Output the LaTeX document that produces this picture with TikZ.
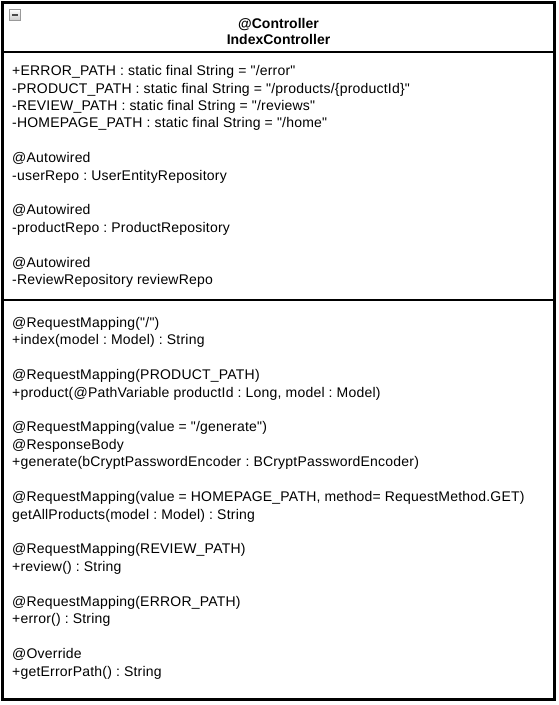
\documentclass[tikz,border=0pt]{standalone}
\usepackage{fontspec}
\setmainfont{Liberation Sans}[Ligatures=TeXOff]
\newfontfamily\memberfont{Liberation Sans}[Ligatures=TeXOff,LetterSpace=1.5]
\frenchspacing
\begin{document}
\begin{tikzpicture}[x=1pt,y=-1pt,
  member/.style={anchor=base west,inner sep=0pt,font=\memberfont\fontsize{14}{17}\selectfont},
  title/.style={anchor=base,inner sep=0pt,font=\fontsize{14}{16}\selectfont\bfseries}]

\useasboundingbox (0,0) rectangle (558,705);

\begin{scope}[line width=3pt] % class frame
  \draw[fill=white] (2,2) rectangle (554.5,699.5);
\end{scope}
\draw[line width=2.5pt] (2,52) -- (554.5,52);
\draw[line width=1.5pt] (2,300) -- (554.5,300);

\begin{scope} % collapse button
  \draw[gray!80,top color=white,bottom color=gray!40] (9.5,9.5) rectangle (20.5,20.5);
  \draw[line width=1.5pt,black!70] (12,15) -- (18,15);
\end{scope}

\node[title] (stereo) at (278.5,28.3) {@Controller};
\node[title] (cname) at (278.5,44.3) {IndexController};

% attributes
\foreach \n/\txt in {
    0/{+ERROR\_PATH : static final String = "/error"},
    1/{-PRODUCT\_PATH : static final String = "/products/\{productId\}"},
    2/{-REVIEW\_PATH : static final String = "/reviews"},
    3/{-HOMEPAGE\_PATH : static final String = "/home"},
    5/{@Autowired},
    6/{-userRepo : UserEntityRepository},
    8/{@Autowired},
    9/{-productRepo : ProductRepository},
    11/{@Autowired},
    12/{-ReviewRepository reviewRepo}}
  \node[member] (attr\n) at (12,75.7+17.4*\n) {\txt};

% operations
\foreach \n/\txt in {
    0/{@RequestMapping("/")},
    1/{+index(model : Model) : String},
    3/{@RequestMapping(PRODUCT\_PATH)},
    4/{+product(@PathVariable productId : Long, model : Model)},
    6/{@RequestMapping(value = "/generate")},
    7/{@ResponseBody},
    8/{+generate(bCryptPasswordEncoder : BCryptPasswordEncoder)},
    10/{@RequestMapping(value = HOMEPAGE\_PATH, method= RequestMethod.GET)},
    11/{getAllProducts(model : Model) : String},
    13/{@RequestMapping(REVIEW\_PATH)},
    14/{+review() : String},
    16/{@RequestMapping(ERROR\_PATH)},
    17/{+error() : String},
    19/{@Override},
    20/{+getErrorPath() : String}}
  \node[member] (op\n) at (12,327.4+17.43*\n) {\txt};

\end{tikzpicture}
\end{document}
